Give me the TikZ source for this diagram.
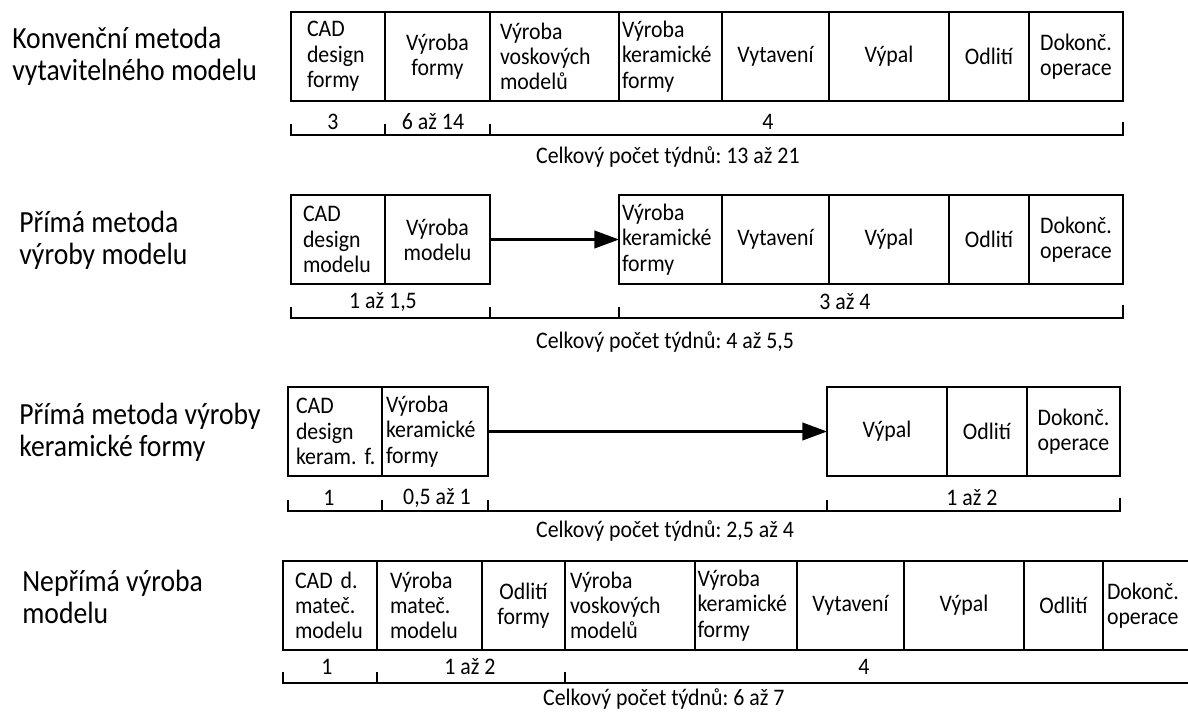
\documentclass[tikz,border=0pt]{standalone}
\usepackage{fontspec}
\setmainfont{Carlito}[FakeStretch=0.92]
\newfontfamily\methodfont{Carlito}[FakeStretch=0.9]
\usetikzlibrary{positioning,arrows.meta}
\newlength{\pxu}
\setlength{\pxu}{0.02cm}
\frenchspacing

\begin{document}
\begin{tikzpicture}[x=0.02cm,y=-0.02cm,
    cell/.style={draw, line width=1pt, outer sep=0pt, inner sep=0pt,
      minimum height=89\pxu, align=center,
      font=\fontsize{13.5}{14.4}\selectfont},
    lcell/.style={cell, align=left, text width=#1\pxu},
    w/.style={minimum width=#1\pxu},
    method/.style={anchor=west, align=left, inner xsep=0pt,
      font=\methodfont\fontsize{17.5}{18}\selectfont},
    span/.style={font=\fontsize{13.5}{14}\selectfont},
    total/.style={anchor=west, font=\fontsize{13.5}{14}\selectfont},
    timeline/.style={line width=1pt},
    flow/.style={line width=1.2pt, -{Triangle[length=14pt,width=10pt]}}]
  \useasboundingbox (0,0) rectangle (1188,711);

  % Konvencni metoda
  \node[method] (r1) at (12,56) {Konvenční metoda\\vytavitelného modelu};
  \node[lcell=62, w=94, anchor=north west] (k1) at (291,12) {CAD\\design\\formy};
  \node[cell, w=105, right=0pt of k1] (k2) {Výroba\\formy};
  \node[lcell=109, w=129, right=0pt of k2] (k3) {Výroba\\voskových\\modelů};
  \node[lcell=97, w=103, right=0pt of k3] (k4) {Výroba\\keramické\\formy};
  \node[cell, w=107, right=0pt of k4] (k5) {Vytavení};
  \node[cell, w=120, right=0pt of k5] (k6) {Výpal};
  \node[cell, w=80, right=0pt of k6] (k7) {Odlití};
  \node[cell, w=94, right=0pt of k7] (k8) {Dokonč.\\operace};

  \draw[timeline] (k1.south west) ++(0,23) -- ++(0,11) -- (k8.south east |- 0,135) -- ++(0,-13);
  \foreach \n in {k2,k3}
    \draw[timeline] (\n.south west) ++(0,23) -- ++(0,11);
  \node[span] at (333,122) {3};
  \node[span] at (433,122) {6 až 14};
  \node[span] at (768,122) {4};
  \node[total] at (530,157) {Celkový počet týdnů: 13 až 21};

  % Prima metoda vyroby modelu
  \node[method] (r2) at (19,240) {Přímá metoda\\výroby modelu};
  \node[lcell=70, w=94, anchor=north west] (m1) at (291,195) {CAD\\design\\modelu};
  \node[cell, w=105, right=0pt of m1] (m2) {Výroba\\modelu};
  \node[lcell=97, w=103, anchor=north west] (m3) at (619,195) {Výroba\\keramické\\formy};
  \node[cell, w=107, right=0pt of m3] (m4) {Vytavení};
  \node[cell, w=120, right=0pt of m4] (m5) {Výpal};
  \node[cell, w=80, right=0pt of m5] (m6) {Odlití};
  \node[cell, w=94, right=0pt of m6] (m7) {Dokonč.\\operace};
  \draw[flow] (m2) -- (m3);

  \draw[timeline] (m1.south west) ++(0,23) -- ++(0,11) -- (m7.south east |- 0,318) -- ++(0,-13);
  \foreach \n in {m2.south east,m3.south west}
    \draw[timeline] (\n) ++(0,23) -- ++(0,11);
  \node[span] at (383,302) {1 až 1,5};
  \node[span] at (845,302) {3 až 4};
  \node[total] at (530,342) {Celkový počet týdnů: 4 až 5,5};

  % Prima metoda vyroby keramicke formy
  \node[method] (r3) at (19,432) {Přímá metoda výroby\\keramické formy};
  \node[lcell=78, w=94, anchor=north west] (f1) at (288,387) {CAD\\design\\keram.~f.};
  \node[lcell=98, w=106, right=0pt of f1] (f2) {Výroba\\keramické\\formy};
  \node[cell, w=120, anchor=north west] (f3) at (827,387) {Výpal};
  \node[cell, w=80, right=0pt of f3] (f4) {Odlití};
  \node[cell, w=93, right=0pt of f4] (f5) {Dokonč.\\operace};
  \draw[flow] (f2) -- (f3);

  \draw[timeline] (f1.south west) ++(0,24) -- ++(0,11) -- (f5.south east |- 0,511) -- ++(0,-13);
  \foreach \n in {f2.south west,f2.south east,f3.south west}
    \draw[timeline] (\n) ++(0,24) -- ++(0,11);
  \node[span] at (329,498) {1};
  \node[span] at (437,498) {0,5 až 1};
  \node[span] at (972,498) {1 až 2};
  \node[total] at (530,531) {Celkový počet týdnů: 2,5 až 4};

  % Neprima vyroba modelu
  \node[method] (r4) at (22,597) {Nepřímá výroba\\modelu};
  \node[lcell=70, w=94, anchor=north west] (n1) at (283,561) {CAD d.\\mateč.\\modelu};
  \node[lcell=79, w=105, right=0pt of n1] (n2) {Výroba\\mateč.\\modelu};
  \node[cell, w=83, right=0pt of n2] (n3) {Odlití\\formy};
  \node[lcell=120, w=130, right=0pt of n3] (n4) {Výroba\\voskových\\modelů};
  \node[lcell=97, w=102, right=0pt of n4] (n5) {Výroba\\keramické\\formy};
  \node[cell, w=107, right=0pt of n5] (n6) {Vytavení};
  \node[cell, w=120, right=0pt of n6] (n7) {Výpal};
  \node[cell, w=79, right=0pt of n7] (n8) {Odlití};
  \node[lcell=92, w=100, right=0pt of n8] (n9) {Dokonč.\\operace};

  \draw[timeline] (n1.south west) ++(0,22) -- ++(0,11) -- (1210,683);
  \foreach \n in {n2,n4}
    \draw[timeline] (\n.south west) ++(0,22) -- ++(0,11);
  \node[span] at (327,667) {1};
  \node[span] at (470,667) {1 až 2};
  \node[span] at (864,667) {4};
  \node[total] at (537,699) {Celkový počet týdnů: 6 až 7};
\end{tikzpicture}
\end{document}
